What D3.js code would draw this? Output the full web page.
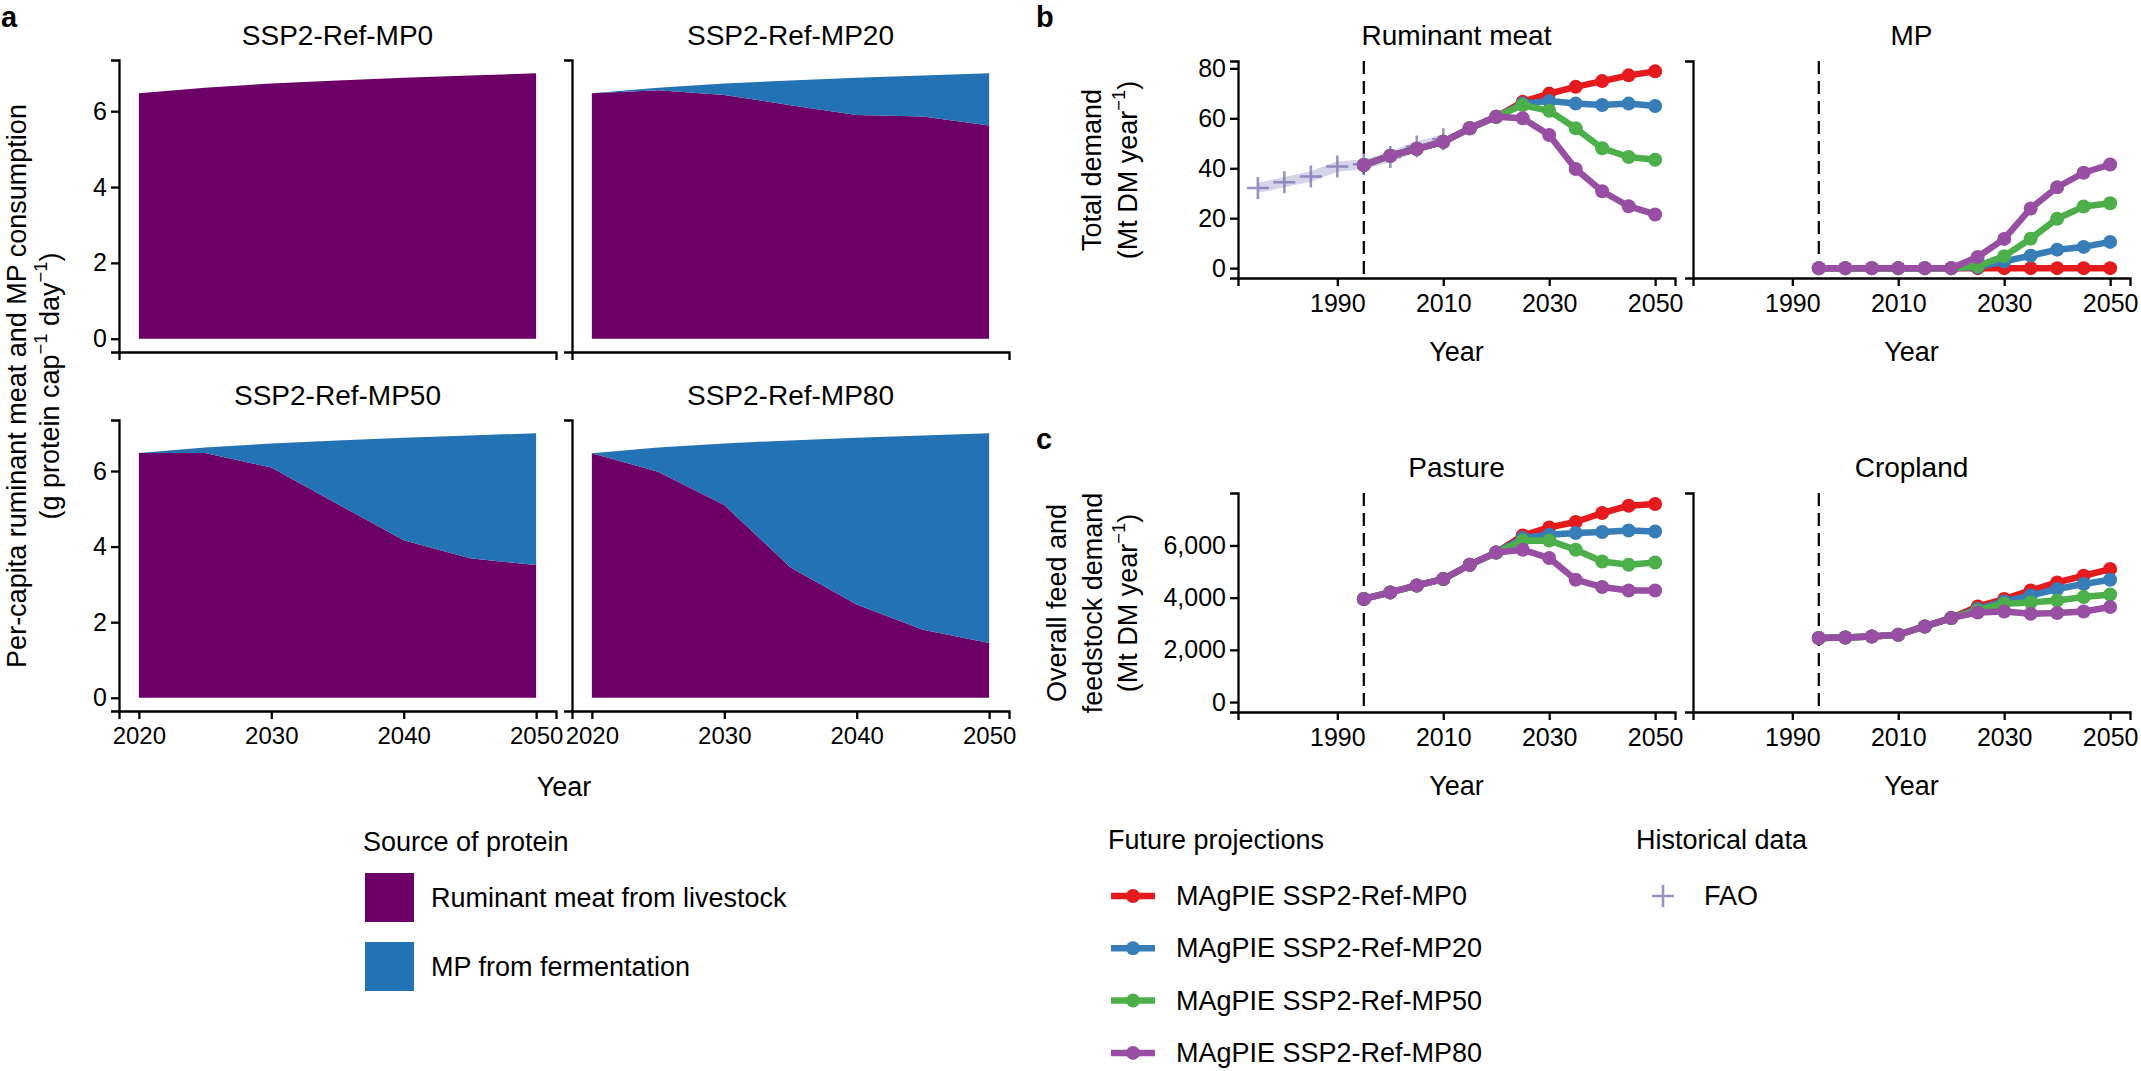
<!DOCTYPE html>
<html>
<head>
<meta charset="utf-8">
<script src="https://cdn.jsdelivr.net/npm/d3@7"></script>
<style>
    body { margin: 0; background: #fff; }
    text { font-family: "Liberation Sans", Arial, Helvetica, sans-serif; fill: #000; }
</style>
</head>
<body>
<svg id="chart"></svg>
<script>
// ---- panel a data (g protein per capita per day) ----
const areaYears = [2020, 2025, 2030, 2035, 2040, 2045, 2050];
const rumMP0  = [6.47, 6.62, 6.73, 6.81, 6.88, 6.94, 7.00];
const rumMP20 = [6.47, 6.55, 6.43, 6.16, 5.90, 5.86, 5.62];
const rumMP50 = [6.48, 6.48, 6.09, 5.13, 4.17, 3.69, 3.51];
const rumMP80 = [6.47, 5.98, 5.10, 3.45, 2.47, 1.80, 1.45];
const mpMP0  = [0, 0, 0, 0, 0, 0, 0];
const mpMP20 = [0.00, 0.07, 0.30, 0.65, 0.98, 1.08, 1.38];
const mpMP50 = [0.00, 0.14, 0.64, 1.68, 2.71, 3.25, 3.49];
const mpMP80 = [0.00, 0.64, 1.63, 3.36, 4.41, 5.14, 5.55];

// ---- panels b and c data ----
const modelYears = [1995, 2000, 2005, 2010, 2015, 2020, 2025, 2030, 2035, 2040, 2045, 2050];
const scenarios = ['MAgPIE SSP2-Ref-MP0', 'MAgPIE SSP2-Ref-MP20', 'MAgPIE SSP2-Ref-MP50', 'MAgPIE SSP2-Ref-MP80'];
const scenarioColors = ['#e41a1c', '#377eb8', '#4daf4a', '#984ea3'];

const ruminantMP0  = [41.3, 45.0, 47.8, 50.6, 56.0, 60.6, 66.6, 69.9, 72.6, 74.9, 77.2, 78.8];
const ruminantMP20 = [41.3, 45.0, 47.8, 50.6, 56.0, 60.6, 65.9, 66.9, 65.9, 65.3, 65.9, 64.9];
const ruminantMP50 = [41.3, 45.0, 47.8, 50.6, 56.0, 60.6, 65.3, 63.0, 56.0, 48.0, 44.5, 43.4];
const ruminantMP80 = [41.3, 45.0, 47.8, 50.6, 56.0, 60.6, 60.0, 53.3, 39.7, 30.8, 24.8, 21.5];

const mpDemMP0  = [0, 0, 0, 0, 0, 0, 0, 0, 0, 0, 0, 0];
const mpDemMP20 = [0, 0, 0, 0, 0, 0, 0.4, 2.7, 5.0, 7.4, 8.5, 10.5];
const mpDemMP50 = [0, 0, 0, 0, 0, 0, 0.8, 4.8, 11.8, 19.8, 24.7, 26.0];
const mpDemMP80 = [0, 0, 0, 0, 0, 0, 4.5, 11.7, 23.9, 32.4, 38.2, 41.5];

const pastureMP0  = [3950, 4200, 4467, 4713, 5260, 5732, 6383, 6690, 6897, 7241, 7521, 7586];
const pastureMP20 = [3950, 4200, 4467, 4713, 5260, 5732, 6284, 6410, 6475, 6513, 6575, 6536];
const pastureMP50 = [3950, 4200, 4467, 4713, 5260, 5732, 6180, 6192, 5835, 5387, 5260, 5349];
const pastureMP80 = [3950, 4200, 4467, 4713, 5260, 5732, 5835, 5517, 4686, 4406, 4276, 4276];

const croplandMP0  = [2452, 2475, 2513, 2579, 2897, 3218, 3663, 3946, 4276, 4582, 4839, 5096];
const croplandMP20 = [2452, 2475, 2513, 2579, 2897, 3218, 3563, 3854, 4084, 4330, 4521, 4686];
const croplandMP50 = [2452, 2475, 2513, 2579, 2897, 3218, 3510, 3766, 3816, 3893, 4023, 4123];
const croplandMP80 = [2452, 2475, 2513, 2579, 2897, 3218, 3433, 3471, 3383, 3410, 3471, 3640];

// FAO historical ruminant meat demand
const faoYears = [1975, 1980, 1985, 1990, 1995, 2000, 2005, 2010];
const faoRuminant = [32.1, 34.4, 36.7, 40.7, 41.6, 44.5, 48.7, 51.6];

const W = 2141, H = 1071;
const purple = '#6c0066', blue = '#2272b4';
const faoColor = '#7570b3';
const tickFont = 25;

const svg = d3.select('#chart').attr('width', W).attr('height', H);
svg.append('rect').attr('width', W).attr('height', H).attr('fill', '#fff');

// text with superscript parts: [[str, isSup], ...]
function richText(g, parts, size) {
    parts.forEach(([s, sup], i) => {
        const prevSup = i > 0 && parts[i - 1][1];
        const t = g.append('tspan').text(s);
        if (sup) t.attr('font-size', size * 0.68).attr('dy', -size * 0.38);
        else if (prevSup) t.attr('dy', size * 0.38);
    });
}

function styleAxis(g, fs) {
    g.selectAll('path.domain').attr('stroke', '#000').attr('stroke-width', 2.3);
    g.selectAll('.tick line').attr('stroke', '#000').attr('stroke-width', 2.3);
    g.selectAll('.tick text').attr('font-size', fs).attr('fill', '#000')
        .style('font-family', '"Liberation Sans", Arial, sans-serif');
}

// ================= panel a =================
const aCols = [119, 572], aW = 437;
const aRows = [[60, 352], [420, 711]];
const facetsA = [
    { title: 'SSP2-Ref-MP0',  rum: rumMP0,  mp: mpMP0,  col: 0, row: 0 },
    { title: 'SSP2-Ref-MP20', rum: rumMP20, mp: mpMP20, col: 1, row: 0 },
    { title: 'SSP2-Ref-MP50', rum: rumMP50, mp: mpMP50, col: 0, row: 1 },
    { title: 'SSP2-Ref-MP80', rum: rumMP80, mp: mpMP80, col: 1, row: 1 }
];

facetsA.forEach(f => {
    const x0 = aCols[f.col], [top, bottom] = aRows[f.row];
    const x = d3.scaleLinear().domain([2018.5, 2051.5]).range([x0, x0 + aW]);
    const y = d3.scaleLinear().domain([-0.35, 7.35]).range([bottom, top]);

    const rows = areaYears.map((yr, i) => ({ year: yr, rum: f.rum[i], mp: f.mp[i] }));
    const stacked = d3.stack().keys(['rum', 'mp'])(rows);
    const area = d3.area().x(d => x(d.data.year)).y0(d => y(d[0])).y1(d => y(d[1]));

    svg.append('g').selectAll('path')
        .data(stacked)
        .join('path')
            .attr('d', area)
            .attr('fill', d => d.key === 'rum' ? purple : blue);

    const yAxis = d3.axisLeft(y).tickSizeOuter(0).tickSize(8).tickPadding(4)
        .tickValues(f.col === 0 ? [0, 2, 4, 6] : []);
    styleAxis(svg.append('g').attr('transform', `translate(${x0},0)`).call(yAxis), tickFont);

    const xAxis = d3.axisBottom(x).tickSizeOuter(0).tickSize(8).tickPadding(8)
        .tickValues(f.row === 1 ? [2020, 2030, 2040, 2050] : []).tickFormat(d3.format('d'));
    styleAxis(svg.append('g').attr('transform', `translate(0,${bottom})`).call(xAxis), 24);

    svg.append('text')
        .attr('x', x0 + aW / 2).attr('y', top - 25)
        .attr('text-anchor', 'middle').attr('dominant-baseline', 'central')
        .attr('font-size', 28).text(f.title);
});

svg.append('text').attr('x', 564).attr('y', 787)
    .attr('text-anchor', 'middle').attr('dominant-baseline', 'central')
    .attr('font-size', 27).text('Year');

const aTitle = svg.append('g').attr('transform', 'translate(0,386) rotate(-90)');
aTitle.append('text').attr('x', 0).attr('y', 17)
    .attr('text-anchor', 'middle').attr('dominant-baseline', 'central')
    .attr('font-size', 27).text('Per-capita ruminant meat and MP consumption');
richText(aTitle.append('text').attr('x', 0).attr('y', 50)
    .attr('text-anchor', 'middle').attr('dominant-baseline', 'central').attr('font-size', 27),
    [['(g protein cap', false], ['−1', true], [' day', false], ['−1', true], [')', false]], 27);

// ================= panels b, c =================
const bCols = [1238, 1693], bW = 437;
const xDomainB = [1971.25, 2053.75];
const rowDefs = {
    b: { top: 61, bottom: 278, domain: [-3.95, 82.95], ticks: [0, 20, 40, 60, 80], fmt: d3.format('d') },
    c: { top: 493, bottom: 712, domain: [-381, 8009], ticks: [0, 2000, 4000, 6000], fmt: d3.format(',') }
};
const facetsB = [
    { title: 'Ruminant meat', row: 'b', col: 0, series: [ruminantMP0, ruminantMP20, ruminantMP50, ruminantMP80], fao: true },
    { title: 'MP',            row: 'b', col: 1, series: [mpDemMP0, mpDemMP20, mpDemMP50, mpDemMP80] },
    { title: 'Pasture',       row: 'c', col: 0, series: [pastureMP0, pastureMP20, pastureMP50, pastureMP80] },
    { title: 'Cropland',      row: 'c', col: 1, series: [croplandMP0, croplandMP20, croplandMP50, croplandMP80] }
];

facetsB.forEach(f => {
    const r = rowDefs[f.row], x0 = bCols[f.col];
    const x = d3.scaleLinear().domain(xDomainB).range([x0, x0 + bW]);
    const y = d3.scaleLinear().domain(r.domain).range([r.bottom, r.top]);
    const g = svg.append('g');

    // start of model period
    g.append('line')
        .attr('x1', x(1995)).attr('x2', x(1995))
        .attr('y1', r.top).attr('y2', r.bottom)
        .attr('stroke', '#000').attr('stroke-width', 2.2)
        .attr('stroke-dasharray', '13,7');

    if (f.fao) {
        const faoLine = d3.line().x((d, i) => x(faoYears[i])).y(d => y(d));
        g.append('path').attr('d', faoLine(faoRuminant))
            .attr('fill', 'none').attr('stroke', faoColor)
            .attr('stroke-width', 10).attr('stroke-opacity', 0.3)
            .attr('stroke-linejoin', 'round');
        g.selectAll('.fao')
            .data(faoRuminant)
            .join('path')
                .attr('class', 'fao')
                .attr('transform', (d, i) => `translate(${x(faoYears[i])},${y(d)})`)
                .attr('d', 'M-11,0H11M0,-11V11')
                .attr('stroke', faoColor).attr('stroke-width', 2.6).attr('stroke-opacity', 0.75);
    }

    const line = d3.line().x((d, i) => x(modelYears[i])).y(d => y(d));
    f.series.forEach((s, k) => {
        const sg = g.append('g');
        sg.append('path').attr('d', line(s))
            .attr('fill', 'none').attr('stroke', scenarioColors[k])
            .attr('stroke-width', 6.5).attr('stroke-linejoin', 'round');
        sg.selectAll('circle')
            .data(s)
            .join('circle')
                .attr('cx', (d, i) => x(modelYears[i]))
                .attr('cy', d => y(d))
                .attr('r', 7)
                .attr('fill', scenarioColors[k]);
    });

    const yAxis = d3.axisLeft(y).tickSizeOuter(0).tickSize(8).tickPadding(4)
        .tickValues(f.col === 0 ? r.ticks : []).tickFormat(r.fmt);
    styleAxis(svg.append('g').attr('transform', `translate(${x0},0)`).call(yAxis), tickFont);

    const xAxis = d3.axisBottom(x).tickSizeOuter(0).tickSize(8).tickPadding(8)
        .tickValues([1990, 2010, 2030, 2050]).tickFormat(d3.format('d'));
    styleAxis(svg.append('g').attr('transform', `translate(0,${r.bottom})`).call(xAxis), tickFont);

    svg.append('text')
        .attr('x', x0 + bW / 2).attr('y', r.top - 26)
        .attr('text-anchor', 'middle').attr('dominant-baseline', 'central')
        .attr('font-size', 28).text(f.title);

    svg.append('text')
        .attr('x', x0 + bW / 2).attr('y', r.bottom + 74)
        .attr('text-anchor', 'middle').attr('dominant-baseline', 'central')
        .attr('font-size', 27).text('Year');
});

// y titles b and c
const bTitle = svg.append('g').attr('transform', 'translate(0,170) rotate(-90)');
bTitle.append('text').attr('x', 0).attr('y', 1092)
    .attr('text-anchor', 'middle').attr('dominant-baseline', 'central')
    .attr('font-size', 27).text('Total demand');
richText(bTitle.append('text').attr('x', 0).attr('y', 1128)
    .attr('text-anchor', 'middle').attr('dominant-baseline', 'central').attr('font-size', 27),
    [['(Mt DM year', false], ['−1', true], [')', false]], 27);

const cTitle = svg.append('g').attr('transform', 'translate(0,603) rotate(-90)');
cTitle.append('text').attr('x', 0).attr('y', 1057)
    .attr('text-anchor', 'middle').attr('dominant-baseline', 'central')
    .attr('font-size', 27).text('Overall feed and');
cTitle.append('text').attr('x', 0).attr('y', 1093)
    .attr('text-anchor', 'middle').attr('dominant-baseline', 'central')
    .attr('font-size', 27).text('feedstock demand');
richText(cTitle.append('text').attr('x', 0).attr('y', 1128)
    .attr('text-anchor', 'middle').attr('dominant-baseline', 'central').attr('font-size', 27),
    [['(Mt DM year', false], ['−1', true], [')', false]], 27);

// panel letters
[['a', 1, 27], ['b', 1036, 27], ['c', 1036, 449]].forEach(([l, x, y]) => {
    svg.append('text').attr('x', x).attr('y', y)
        .attr('font-size', 29).attr('font-weight', 'bold').text(l);
});

// ================= legends =================
svg.append('text').attr('x', 363).attr('y', 851).attr('font-size', 27).text('Source of protein');
const protLegend = [['Ruminant meat from livestock', purple], ['MP from fermentation', blue]];
protLegend.forEach(([label, col], i) => {
    const yy = 873 + i * 69;
    svg.append('rect').attr('x', 365).attr('y', yy).attr('width', 49).attr('height', 49).attr('fill', col);
    svg.append('text').attr('x', 431).attr('y', yy + 25)
        .attr('dominant-baseline', 'central').attr('font-size', 27).text(label);
});

svg.append('text').attr('x', 1108).attr('y', 849).attr('font-size', 27).text('Future projections');
scenarios.forEach((label, i) => {
    const yy = 896 + i * 52.3;
    svg.append('line').attr('x1', 1111).attr('x2', 1155).attr('y1', yy).attr('y2', yy)
        .attr('stroke', scenarioColors[i]).attr('stroke-width', 6.5);
    svg.append('circle').attr('cx', 1133).attr('cy', yy).attr('r', 7).attr('fill', scenarioColors[i]);
    svg.append('text').attr('x', 1176).attr('y', yy)
        .attr('dominant-baseline', 'central').attr('font-size', 27).text(label);
});

svg.append('text').attr('x', 1636).attr('y', 849).attr('font-size', 27).text('Historical data');
svg.append('path').attr('transform', 'translate(1663,896)').attr('d', 'M-11,0H11M0,-11V11')
    .attr('stroke', faoColor).attr('stroke-width', 2.6).attr('stroke-opacity', 0.75);
svg.append('text').attr('x', 1704).attr('y', 896)
    .attr('dominant-baseline', 'central').attr('font-size', 27).text('FAO');
</script>
</body>
</html>
